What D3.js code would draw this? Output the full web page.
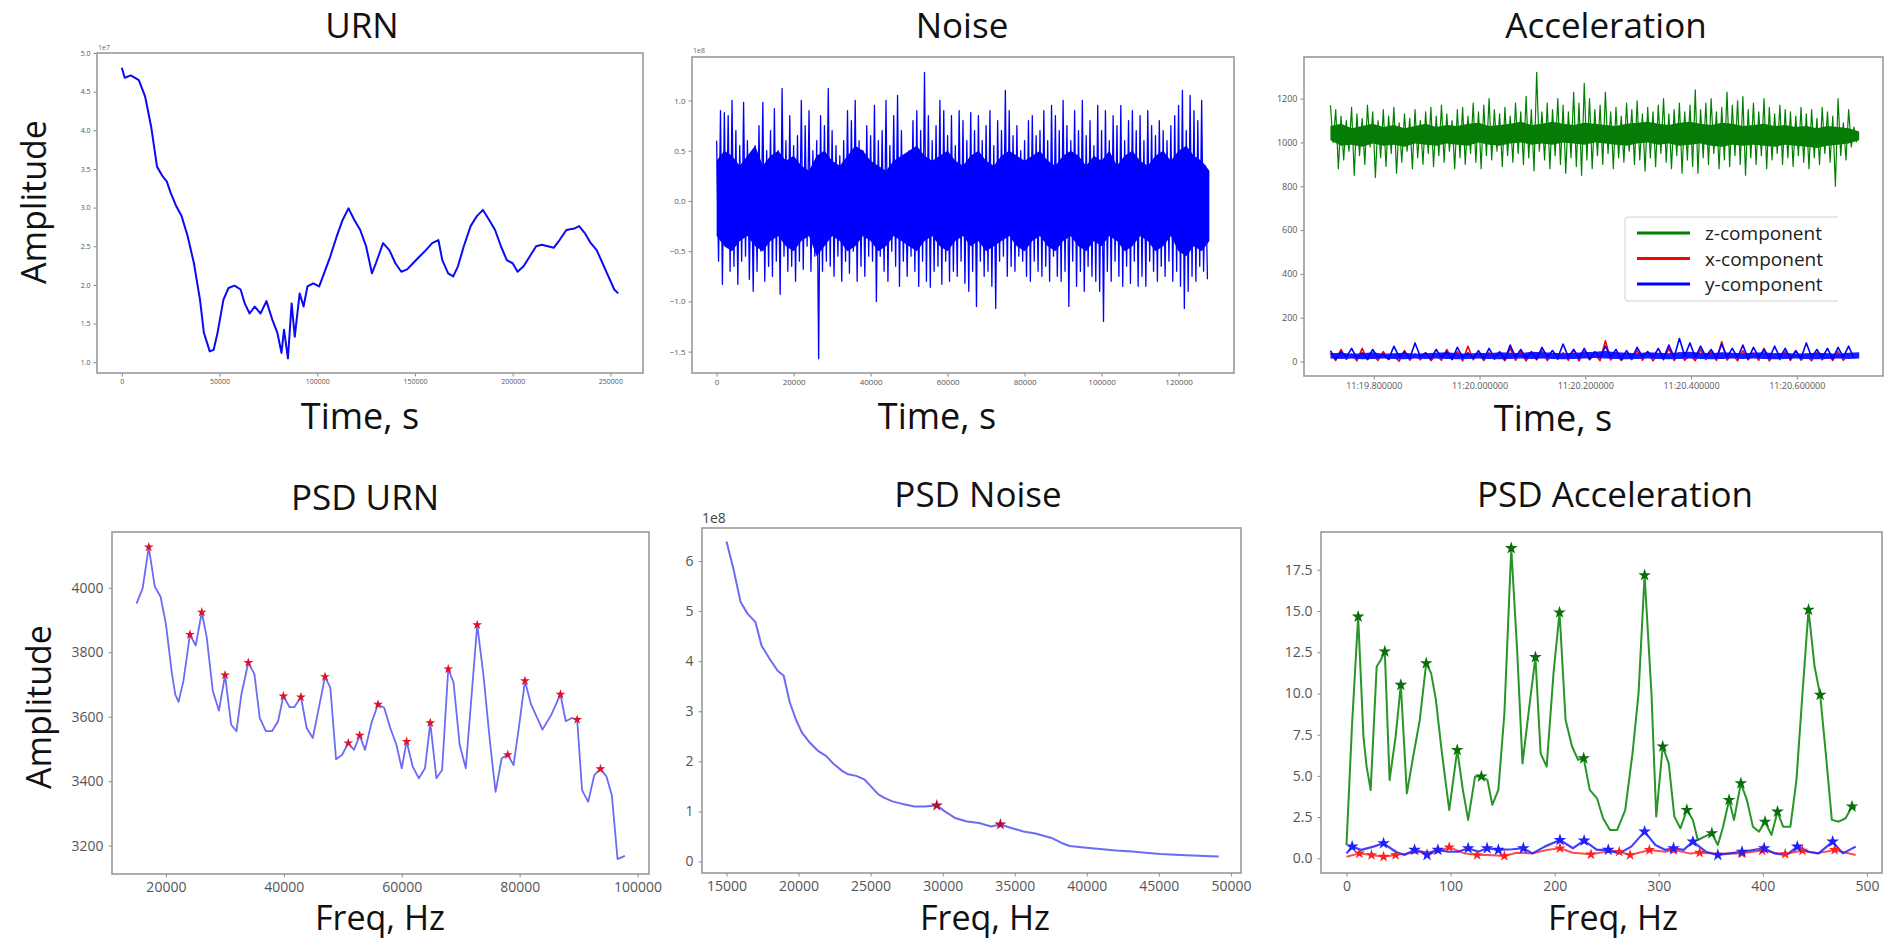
<!DOCTYPE html>
<html>
<head>
<meta charset="utf-8">
<title>URN / Noise / Acceleration</title>
<script src="https://cdn.jsdelivr.net/npm/d3@7"></script>
<style>
  body { margin: 0; background: #fff; }
  text { font-family: "Open Sans", "Noto Sans", sans-serif; }
</style>
</head>
<body>
<svg width="1895" height="940" id="mainsvg"></svg>
<script>
// ---- URN (time in s, amplitude in 1e7) ----
const urnT = [0, 1500, 4600, 8700, 11900, 15000, 18000, 21000, 23000, 25000, 28000, 30600, 33700, 36900, 40000, 42000,
  45000, 47000, 49000, 52000, 54600, 57700, 60800, 62900, 65400, 68000, 71000, 74000, 77000, 79600, 81700, 83000, 85000,
  86900, 88500, 91000, 93000, 95000, 98000, 101000, 103500, 106700, 110000, 113000, 116000, 119000, 122000, 125000,
  128000, 130000, 133700, 136900, 140000, 143000, 146000, 149000, 152500, 155600, 158800, 162000, 164000, 167000,
  169600, 172000, 175000, 178500, 181700, 184800, 188000, 191000, 194000, 197000, 200000, 202500, 205600, 208800,
  212000, 215000, 218000, 221000, 224000, 227500, 231700, 234000, 236900, 240000, 243000, 246000, 249000, 252000, 254000];
const urnA = [4.81, 4.68, 4.71, 4.65, 4.44, 4.05, 3.53, 3.40, 3.34, 3.19, 3.01, 2.89, 2.63, 2.28, 1.81, 1.38,
  1.14, 1.16, 1.38, 1.81, 1.96, 1.99, 1.94, 1.76, 1.63, 1.72, 1.63, 1.79, 1.55, 1.38, 1.12, 1.42, 1.05,
  1.76, 1.33, 1.89, 1.72, 1.98, 2.02, 1.98, 2.15, 2.37, 2.63, 2.84, 2.99, 2.84, 2.71, 2.50,
  2.15, 2.28, 2.54, 2.45, 2.28, 2.17, 2.20, 2.28, 2.37, 2.45, 2.54, 2.58, 2.32, 2.15,
  2.11, 2.24, 2.50, 2.76, 2.89, 2.97, 2.84, 2.71, 2.50, 2.32, 2.28, 2.17, 2.24, 2.37,
  2.50, 2.52, 2.50, 2.48, 2.58, 2.71, 2.73, 2.76, 2.67, 2.54, 2.45, 2.28, 2.11, 1.94, 1.89];

// ---- Noise (1e8): spikes, one peak and one trough per 1000 s ----
const noiseStep = 1000;
const noiseHigh = [0.6, 0.9, 0.88, 0.85, 1.0, 0.7, 0.55, 0.98, 0.6, 0.45,
  0.55, 0.75, 0.98, 0.5, 0.7, 0.92, 0.5, 1.12, 0.6, 0.85,
  0.55, 0.65, 1.0, 0.75, 0.9, 0.5, 0.6, 0.85, 0.75, 1.12,
  0.7, 0.55, 0.45, 0.6, 0.9, 0.8, 1.0, 0.6, 0.5, 0.75,
  0.65, 0.95, 0.6, 0.7, 1.0, 0.55, 0.85, 1.05, 0.7, 0.35,
  0.5, 0.8, 0.9, 0.7, 1.28, 0.85, 0.6, 0.75, 1.0, 0.9,
  0.65, 0.85, 0.55, 0.9, 0.8, 0.6, 0.88, 0.7, 0.85, 0.6,
  0.75, 0.9, 0.55, 0.8, 0.7, 1.1, 0.9, 0.65, 0.75, 0.5,
  0.6, 0.8, 0.85, 0.65, 0.7, 0.9, 0.6, 0.95, 0.85, 0.7,
  1.0, 0.75, 0.6, 0.9, 0.7, 1.0, 0.65, 0.8, 0.55, 0.95,
  0.7, 0.9, 0.6, 0.85, 0.75, 0.95, 0.6, 0.8, 0.9, 0.7,
  0.85, 0.6, 0.9, 0.75, 0.65, 0.8, 0.7, 0.6, 0.75, 0.85,
  0.95, 1.1, 0.7, 1.05, 0.9, 0.8, 1.0, 0.35];
const noiseLow = [-0.6, -0.83, -0.45, -0.7, -0.65, -0.83, -0.6, -0.55, -0.78, -0.9,
  -0.7, -0.5, -0.8, -0.65, -0.75, -0.6, -0.93, -0.55, -0.7, -0.65,
  -0.8, -0.6, -0.68, -0.45, -0.7, -0.55, -1.57, -0.7, -0.6, -0.65,
  -0.75, -0.55, -0.8, -0.6, -0.72, -0.5, -0.8, -0.65, -0.75, -0.55,
  -0.6, -1.0, -0.55, -0.7, -0.8, -0.5, -0.65, -0.85, -0.6, -0.75,
  -0.55, -0.7, -0.85, -0.6, -0.8, -0.86, -0.7, -0.65, -0.83, -0.6,
  -0.8, -0.7, -0.75, -0.6, -0.82, -0.9, -0.7, -1.05, -0.6, -0.75,
  -0.7, -0.85, -1.07, -0.6, -0.55, -0.75, -0.65, -0.7, -0.55, -0.6,
  -0.75, -0.8, -0.6, -0.7, -0.75, -0.65, -0.8, -0.55, -0.75, -0.8,
  -0.7, -1.05, -0.6, -0.85, -0.7, -0.9, -0.65, -0.75, -0.8, -0.9,
  -1.2, -0.7, -0.8, -0.6, -0.75, -0.85, -0.65, -0.82, -0.6, -0.85,
  -0.75, -0.85, -0.6, -0.7, -0.8, -0.65, -0.75, -0.6, -0.8, -0.7,
  -0.85, -1.07, -0.9, -0.75, -0.8, -0.65, -0.7, -0.78];
// dense solid core of the noise band, every 2000 s
const noiseCoreStep = 2000;
const noiseCoreHigh = [0.4, 0.5, 0.45, 0.35, 0.45, 0.55, 0.35, 0.45, 0.5, 0.4,
  0.45, 0.35, 0.3, 0.45, 0.5, 0.4, 0.35, 0.45, 0.55, 0.5,
  0.4, 0.35, 0.3, 0.4, 0.45, 0.5, 0.55, 0.45, 0.4, 0.45,
  0.5, 0.4, 0.35, 0.45, 0.5, 0.4, 0.35, 0.45, 0.5, 0.45,
  0.4, 0.45, 0.5, 0.4, 0.35, 0.45, 0.5, 0.45, 0.35, 0.45,
  0.4, 0.5, 0.35, 0.45, 0.5, 0.4, 0.35, 0.45, 0.5, 0.4,
  0.5, 0.55, 0.45, 0.4, 0.3];
const noiseCoreLow = [-0.35, -0.45, -0.5, -0.4, -0.35, -0.45, -0.5, -0.4, -0.35, -0.45,
  -0.5, -0.4, -0.35, -0.55, -0.45, -0.35, -0.4, -0.5, -0.45, -0.35,
  -0.4, -0.5, -0.45, -0.35, -0.4, -0.45, -0.5, -0.4, -0.35, -0.45,
  -0.5, -0.4, -0.35, -0.45, -0.4, -0.5, -0.45, -0.4, -0.35, -0.45,
  -0.5, -0.4, -0.35, -0.45, -0.5, -0.4, -0.35, -0.45, -0.5, -0.4,
  -0.45, -0.35, -0.4, -0.5, -0.45, -0.35, -0.4, -0.5, -0.45, -0.35,
  -0.5, -0.55, -0.45, -0.5, -0.4];

// ---- Acceleration, seconds after 11 min, spikes every 0.01 s ----
const accStart = 19.718, accStep = 0.01, accCoreStep = 0.02;
const accZHigh = [1170, 1150, 1120, 1100, 1160, 1130, 1110, 1170, 1140, 1100,
  1150, 1120, 1160, 1090, 1130, 1110, 1150, 1100, 1140, 1160,
  1120, 1170, 1130, 1100, 1150, 1160, 1120, 1180, 1140, 1170,
  1200, 1150, 1130, 1160, 1120, 1180, 1140, 1210, 1150, 1320,
  1140, 1180, 1150, 1200, 1170, 1140, 1230, 1180, 1270, 1200,
  1150, 1170, 1230, 1140, 1160, 1120, 1180, 1150, 1190, 1130,
  1160, 1140, 1170, 1200, 1130, 1150, 1180, 1140, 1170, 1240,
  1150, 1180, 1200, 1140, 1160, 1230, 1170, 1190, 1210, 1150,
  1180, 1140, 1200, 1160, 1130, 1170, 1150, 1140, 1120, 1160,
  1130, 1150, 1110, 1160, 1140, 1120, 1200, 1090, 1150, 1070];
const accZLow = [1000, 880, 920, 960, 850, 940, 900, 980, 840, 930,
  890, 950, 860, 910, 960, 880, 930, 900, 950, 890,
  940, 910, 960, 880, 930, 900, 950, 910, 880, 940,
  920, 960, 890, 940, 910, 950, 900, 930, 870, 960,
  920, 880, 940, 900, 860, 930, 890, 850, 920, 880,
  940, 900, 950, 880, 930, 910, 960, 900, 920, 870,
  930, 890, 950, 910, 880, 940, 860, 920, 890, 860,
  930, 900, 950, 880, 920, 890, 940, 900, 850, 930,
  900, 940, 880, 920, 950, 900, 930, 890, 940, 910,
  880, 930, 900, 950, 910, 800, 940, 920, 980, 1000];
const accZCoreHigh = [1075, 1085, 1065, 1075, 1085, 1070, 1080, 1065, 1075, 1085,
  1070, 1080, 1075, 1085, 1090, 1075, 1080, 1085, 1095, 1080,
  1085, 1095, 1085, 1080, 1090, 1085, 1080, 1075, 1085, 1090,
  1095, 1085, 1080, 1090, 1095, 1085, 1080, 1090, 1085, 1075,
  1080, 1085, 1075, 1080, 1070, 1075, 1065, 1075, 1070, 1065,
  1050];
const accZCoreLow = [1010, 985, 990, 980, 995, 985, 990, 980, 995, 990,
  985, 995, 990, 985, 1000, 990, 985, 995, 1000, 990,
  995, 990, 1000, 995, 990, 1000, 995, 990, 985, 995,
  1000, 990, 995, 985, 990, 995, 985, 980, 990, 985,
  990, 985, 980, 990, 985, 980, 975, 985, 990, 995,
  1010];
const accX = [40, 5, 55, 10, 35, 3, 60, 8, 30, 5, 45, 10, 25, 2, 50, 6, 35, 8, 40, 4,
  30, 6, 55, 9, 45, 3, 70, 8, 35, 5, 40, 10, 30, 4, 60, 6, 45, 3, 35, 8,
  50, 5, 30, 10, 40, 6, 55, 3, 45, 8, 35, 4, 95, 7, 40, 5, 30, 9, 50, 6,
  45, 3, 35, 8, 60, 5, 40, 6, 30, 4, 55, 9, 45, 5, 90, 7, 35, 4, 50, 8,
  40, 6, 60, 3, 35, 9, 45, 5, 50, 6, 30, 4, 40, 8, 35, 5, 45, 6, 30, 20];
const accY = [50, 10, 45, 20, 60, 15, 40, 12, 55, 18, 35, 10, 70, 20, 45, 15, 85, 22, 40, 12,
  55, 18, 45, 10, 65, 20, 40, 15, 50, 12, 60, 18, 45, 10, 75, 20, 55, 15, 45, 12,
  65, 22, 50, 18, 80, 20, 55, 15, 60, 12, 45, 18, 70, 20, 55, 10, 50, 15, 65, 22,
  45, 18, 60, 15, 75, 20, 105, 25, 85, 18, 70, 22, 55, 15, 80, 20, 60, 18, 75, 12,
  65, 20, 55, 15, 70, 18, 60, 12, 50, 15, 85, 20, 55, 18, 60, 12, 65, 20, 70, 15];
const accYCoreHigh = [38, 40, 35, 38, 42, 36, 38, 40, 35, 38,
  40, 42, 38, 36, 40, 38, 42, 40, 38, 45,
  42, 40, 38, 40, 42, 45, 48, 42, 40, 38,
  42, 40, 38, 42, 45, 40, 38, 42, 40, 38,
  40, 42, 38, 40, 36, 38, 40, 38, 36, 40,
  42];
const accYCoreLow = [14, 12, 14, 10, 12, 14, 12, 10, 14, 12,
  14, 12, 10, 12, 14, 12, 10, 12, 14, 12,
  14, 12, 10, 12, 14, 16, 14, 12, 10, 12,
  14, 12, 10, 12, 14, 12, 10, 12, 14, 12,
  14, 12, 10, 12, 14, 12, 10, 12, 14, 12,
  14];
const accLegend = ['z-component', 'x-component', 'y-component'];

// ---- PSD URN ----
const psdUrnF = [15017, 16055, 17093, 18131, 19100, 20000, 21038, 21592, 22145, 22976, 24083, 25052, 26090, 26920,
  27958, 28997, 30035, 31073, 31972, 32803, 33979, 35017, 35917, 36955, 37993, 39031, 39931, 40969, 41799, 42907,
  43875, 44913, 45952, 46990, 47889, 48858, 49896, 50934, 51903, 52872, 53772, 54948, 55986, 57024, 58062, 59100,
  60000, 60830, 61869, 62907, 63945, 64844, 65882, 66851, 67889, 68789, 69827, 70865, 72803, 73841, 75017, 75917,
  76955, 77993, 78962, 79862, 80900, 81938, 83875, 85398, 86920, 87820, 88858, 89758, 90588, 91626, 92664, 93702,
  94740, 95640, 96609, 97855];
const psdUrnA = [3951, 3998, 4126, 4003, 3972, 3888, 3732, 3669, 3646, 3711, 3855, 3821, 3924, 3847,
  3680, 3619, 3729, 3575, 3555, 3669, 3768, 3732, 3596, 3555, 3555, 3586, 3664, 3630, 3630, 3661,
  3565, 3534, 3628, 3724, 3690, 3468, 3482, 3518, 3497, 3542, 3497, 3586, 3638, 3628, 3565, 3513,
  3440, 3523, 3445, 3409, 3440, 3581, 3409, 3435, 3748, 3706, 3513, 3440, 3885, 3732, 3513, 3367,
  3471, 3482, 3450, 3565, 3711, 3638, 3560, 3607, 3669, 3586, 3596, 3591, 3372, 3336, 3419, 3438,
  3414, 3356, 3158, 3168];
const psdUrnPeakF = [17093, 24083, 26090, 30035, 33979, 39931, 42907, 46990, 50934, 52872, 55986, 60830,
  64844, 67889, 72803, 77993, 80900, 86920, 89758, 93702];
const psdUrnPeakA = [4126, 3855, 3924, 3729, 3768, 3664, 3661, 3724, 3518, 3542, 3638, 3523,
  3581, 3748, 3885, 3482, 3711, 3669, 3591, 3438];

// ---- PSD Noise (1e8) ----
const psdNoiseF = [15000, 15475, 15978, 16453, 17012, 17432, 17990, 18550, 18969, 19388, 19808, 20227, 20786,
  21345, 21904, 22463, 23022, 23441, 24000, 24559, 25118, 25537, 25956, 26515, 27214, 28052, 28751, 29590,
  30149, 30848, 31687, 32525, 33364, 34005, 34760, 35598, 36437, 37555, 38254, 38813, 39791, 40909, 42027,
  43145, 44263, 45101, 46499, 48176, 49154];
const psdNoiseA = [6.39, 5.85, 5.18, 4.95, 4.78, 4.31, 4.05, 3.81, 3.71, 3.18, 2.84, 2.58, 2.37,
  2.21, 2.11, 1.94, 1.81, 1.74, 1.71, 1.64, 1.47, 1.34, 1.27, 1.20, 1.15, 1.10, 1.10, 1.12,
  1.00, 0.87, 0.80, 0.77, 0.70, 0.74, 0.67, 0.60, 0.56, 0.47, 0.37, 0.31, 0.28, 0.25, 0.22,
  0.20, 0.17, 0.15, 0.13, 0.11, 0.10];
const psdNoisePeakF = [29590, 34005];
const psdNoisePeakA = [1.12, 0.74];

// ---- PSD Acceleration ----
const psdZF = [0, 5.4, 11.2, 16.3, 19.3, 23.2, 29.0, 32.9, 36.8, 41.4, 47.2, 52.2, 58.0, 63.5, 70.4, 76.6, 81.3,
  85.9, 91.7, 98.7, 106.4, 111.8, 116.9, 123.5, 129.6, 135.4, 140.1, 145.9, 151.7, 158.3, 164.1, 169.1, 174.9,
  181.5, 186.5, 192.3, 198.9, 204.7, 210.5, 216.7, 222.5, 227.9, 233.7, 240.7, 246.5, 253.1, 260.1, 267.8, 274.8,
  280.6, 286.4, 293.0, 297.6, 303.8, 309.6, 315.0, 320.8, 327.0, 332.8, 337.5, 344.0, 351.0, 356.8, 361.8, 367.6,
  372.3, 378.9, 384.7, 390.5, 396.3, 402.1, 408.3, 414.1, 419.5, 426.5, 432.3, 438.1, 443.9, 449.7, 455.1, 460.5,
  466.3, 472.9, 479.5, 485.7, 489.2];
const psdZA = [0.81, 8.19, 14.66, 7.38, 5.56, 4.15, 11.63, 12.03, 12.54, 4.75, 7.38, 10.52, 3.94, 5.97, 8.39, 11.83, 11.23,
  9.61, 6.37, 2.93, 6.57, 4.15, 2.33, 4.96, 4.96, 4.75, 3.24, 4.15, 8.80, 18.81, 12.44, 5.76, 8.80,
  12.20, 6.37, 5.56, 11.23, 14.91, 8.39, 6.78, 5.97, 6.07, 4.15, 3.64, 2.43, 1.72, 1.72, 2.93, 6.37,
  10.01, 17.17, 10.01, 2.53, 6.78, 5.76, 2.53, 1.82, 2.93, 2.33, 1.11, 1.31, 1.52, 0.81, 1.92, 3.54,
  2.33, 4.55, 3.54, 1.92, 1.62, 2.22, 1.42, 2.83, 1.92, 1.92, 4.75, 10.01, 15.07, 11.63, 9.91, 6.37,
  2.33, 2.22, 2.43, 3.14, 3.03];
const psdZPeakF = [11.2, 36.8, 52.2, 76.6, 106.4, 129.6, 158.3, 181.5, 204.7, 227.9, 286.4, 303.8, 327.0, 351.0,
  367.6, 378.9, 402.1, 414.1, 443.9, 455.1, 485.7];
const psdZPeakA = [14.66, 12.54, 10.52, 11.83, 6.57, 4.96, 18.81, 12.20, 14.91, 6.07, 17.17, 6.78, 2.93, 1.52,
  3.54, 4.55, 2.22, 2.83, 15.07, 9.91, 3.14];
const psdYF = [0, 5.4, 14.3, 25.9, 35.6, 47.2, 55.7, 65.4, 72.4, 77.4, 82.0, 87.8, 97.5, 107.2, 116.9, 126.5, 135.1,
  145.9, 159.4, 169.9, 178.8, 190.4, 205.1, 217.5, 228.3, 240.7, 251.5, 262.0, 273.6, 286.4, 296.8, 306.5, 314.2,
  323.9, 332.8, 345.2, 356.8, 368.4, 380.0, 391.6, 401.3, 411.0, 422.6, 433.1, 443.9, 453.6, 467.1, 476.8, 489.2];
const psdYA = [0.30, 0.71, 0.51, 0.71, 0.91, 0.40, 0.20, 0.51, 0.40, 0.20, 0.40, 0.51, 0.40, 0.40, 0.61, 0.40, 0.61,
  0.51, 0.55, 0.61, 0.30, 0.71, 1.11, 0.61, 1.07, 0.51, 0.51, 0.30, 0.71, 1.62, 0.81, 0.51, 0.61,
  0.51, 1.01, 0.40, 0.20, 0.30, 0.40, 0.51, 0.61, 0.30, 0.20, 0.71, 0.40, 0.30, 1.01, 0.30, 0.71];
const psdYPeak = [1, 4, 7, 9, 11, 14, 16, 17, 19, 22, 24, 26, 29, 32, 34, 36, 38, 40, 43, 46];
const psdXF = [0, 12.4, 24.0, 35.6, 47.2, 58.8, 74.3, 85.9, 98.7, 113.0, 125.5, 136.2, 151.7, 163.3, 178.8, 192.3,
  205.1, 217.5, 234.9, 248.5, 262.0, 272.5, 291.0, 306.5, 314.2, 329.7, 339.3, 352.9, 380.0, 399.4, 414.9, 421.5,
  438.1, 451.7, 469.0, 489.2];
const psdXA = [0.10, 0.30, 0.20, 0.10, 0.20, 0.30, 0.40, 0.34, 0.67, 0.30, 0.20, 0.20, 0.14, 0.34, 0.30, 0.51,
  0.61, 0.34, 0.24, 0.40, 0.40, 0.20, 0.51, 0.40, 0.51, 0.30, 0.34, 0.30, 0.30, 0.47, 0.30, 0.26,
  0.47, 0.30, 0.51, 0.20];
const psdXPeak = [1, 2, 3, 4, 8, 10, 12, 16, 18, 20, 21, 22, 24, 26, 28, 29, 31, 32, 34];

const svg = d3.select('#mainsvg');
let clipId = 0;

function panel(box, xDomain, yDomain) {
  const w = box.right - box.left, h = box.bottom - box.top;
  const g = svg.append('g').attr('transform', `translate(${box.left}, ${box.top})`);
  const x = d3.scaleLinear().domain(xDomain).range([0, w]);
  const y = d3.scaleLinear().domain(yDomain).range([h, 0]);
  const id = 'clip' + (clipId++);
  g.append('clipPath').attr('id', id).append('rect').attr('width', w).attr('height', h);
  const plot = g.append('g').attr('clip-path', `url(#${id})`);
  return {g, plot, x, y, w, h};
}

function axes(p, xTicks, yTicks, xFmt, yFmt, fs, pad) {
  const xa = p.g.append('g').attr('transform', `translate(0, ${p.h})`)
    .call(d3.axisBottom(p.x).tickValues(xTicks).tickFormat(xFmt).tickSize(3.5).tickSizeOuter(0).tickPadding(pad));
  const ya = p.g.append('g')
    .call(d3.axisLeft(p.y).tickValues(yTicks).tickFormat(yFmt).tickSize(3.5).tickSizeOuter(0).tickPadding(pad));
  [xa, ya].forEach(a => {
    a.attr('font-family', '"DejaVu Sans", sans-serif').attr('font-size', fs).attr('color', '#555');
    a.select('.domain').remove();
    a.selectAll('.tick line').attr('stroke', '#888');
  });
  p.g.append('rect').attr('width', p.w).attr('height', p.h)
    .attr('fill', 'none').attr('stroke', '#999').attr('stroke-width', 1.6);
}

function drawLine(p, xs, ys, color, width, opacity) {
  const line = d3.line().x(i => p.x(xs[i])).y(i => p.y(ys[i]));
  p.plot.append('path').attr('d', line(d3.range(xs.length)))
    .attr('fill', 'none').attr('stroke', color).attr('stroke-width', width)
    .attr('stroke-opacity', opacity).attr('stroke-linejoin', 'round');
}

// solid band between two envelopes, sampled every `step` from `start`
function drawBand(p, start, step, hi, lo, color) {
  const area = d3.area().x(i => p.x(start + i * step)).y0(i => p.y(lo[i])).y1(i => p.y(hi[i]));
  p.plot.append('path').attr('d', area(d3.range(hi.length))).attr('fill', color);
}

function drawStars(p, xs, ys, color, size) {
  p.plot.selectAll(null).data(d3.range(xs.length)).join('path')
    .attr('d', d3.symbol(d3.symbolStar, size))
    .attr('transform', i => `translate(${p.x(xs[i])}, ${p.y(ys[i])})`)
    .attr('fill', color);
}

function label(txt, x, y, size, rotate) {
  const t = svg.append('text').text(txt).attr('font-size', size)
    .attr('text-anchor', 'middle').attr('fill', '#111');
  if (rotate) t.attr('dominant-baseline', 'central').attr('transform', `translate(${x}, ${y}) rotate(-90)`);
  else t.attr('x', x).attr('y', y);
}

// interleave peaks and troughs into one zig-zag series
function zigzag(start, step, hi, lo) {
  const xs = [], ys = [];
  hi.forEach((v, i) => {
    xs.push(start + i * step, start + (i + 0.5) * step);
    ys.push(v, lo[i]);
  });
  return [xs, ys];
}

const f1 = d3.format('.1f');

// URN
const pUrn = panel({left: 97, right: 643, top: 53, bottom: 373}, [-12700, 266700], [0.86, 5.0]);
drawLine(pUrn, urnT, urnA, '#0a0af5', 2, 1);
axes(pUrn, d3.range(0, 250001, 50000), d3.range(1, 5.01, 0.5), d3.format('d'), f1, 7, 3);
pUrn.g.append('text').text('1e7').attr('x', 1).attr('y', -3).attr('font-size', 7)
  .attr('font-family', '"DejaVu Sans", sans-serif').attr('fill', '#666');

// Noise
const pNoise = panel({left: 692, right: 1234, top: 57, bottom: 373}, [-6400, 134400], [-1.713, 1.433]);
drawBand(pNoise, 0, noiseCoreStep, noiseCoreHigh, noiseCoreLow, '#0000ff');
const [nX, nY] = zigzag(0, noiseStep, noiseHigh, noiseLow);
drawLine(pNoise, nX, nY, '#0000ff', 1.3, 1);
axes(pNoise, d3.range(0, 120001, 20000), d3.range(-1.5, 1.01, 0.5), d3.format('d'), f1, 8, 3);
pNoise.g.append('text').text('1e8').attr('x', 1).attr('y', -4).attr('font-size', 7)
  .attr('font-family', '"DejaVu Sans", sans-serif').attr('fill', '#666');

// Acceleration
const pAcc = panel({left: 1304, right: 1883, top: 57, bottom: 376}, [19.668, 20.763], [-66, 1390]);
drawBand(pAcc, accStart, accCoreStep, accZCoreHigh, accZCoreLow, '#0a7a0a');
const [zX, zY] = zigzag(accStart, accStep, accZHigh, accZLow);
drawLine(pAcc, zX, zY, '#008000', 1.2, 1);
const tX = accX.map((v, i) => accStart + i * accStep * accZHigh.length / accX.length);
drawLine(pAcc, tX, accX, '#ff0000', 1.6, 1);
drawBand(pAcc, accStart, accCoreStep, accYCoreHigh, accYCoreLow, '#1a1aff');
drawLine(pAcc, tX, accY, '#0000ff', 1.6, 1);
axes(pAcc, [19.8, 20.0, 20.2, 20.4, 20.6], d3.range(0, 1201, 200),
  d => '11:' + d.toFixed(6), d3.format('d'), 9, 3);

// legend (clipped on the right as in the picture)
svg.append('clipPath').attr('id', 'legclip').append('rect')
  .attr('x', 1610).attr('y', 200).attr('width', 228).attr('height', 120);
const leg = svg.append('g').attr('clip-path', 'url(#legclip)');
leg.append('rect').attr('x', 1625).attr('y', 217).attr('width', 240).attr('height', 84)
  .attr('rx', 3).attr('fill', 'white').attr('fill-opacity', 0.85).attr('stroke', '#d0d0d0');
const legColors = ['#008000', '#ff0000', '#0000ff'];
accLegend.forEach((name, i) => {
  const yy = 233 + i * 25.5;
  leg.append('line').attr('x1', 1637).attr('x2', 1690).attr('y1', yy).attr('y2', yy)
    .attr('stroke', legColors[i]).attr('stroke-width', 3.2);
  leg.append('text').text(name).attr('x', 1705).attr('y', yy).attr('dominant-baseline', 'central')
    .attr('font-size', 19).attr('fill', '#222');
});

// PSD URN
const pPU = panel({left: 112, right: 649, top: 532, bottom: 874}, [10860, 101940], [3112, 4173]);
drawLine(pPU, psdUrnF, psdUrnA, '#3a3af0', 1.8, 0.75);
drawStars(pPU, psdUrnPeakF, psdUrnPeakA, '#e0102a', 30);
axes(pPU, d3.range(20000, 100001, 20000), d3.range(3200, 4001, 200), d3.format('d'), d3.format('d'), 14, 5);

// PSD Noise
const pPN = panel({left: 702, right: 1241, top: 528, bottom: 873}, [13300, 50700], [-0.23, 6.66]);
drawLine(pPN, psdNoiseF, psdNoiseA, '#3a3af0', 2, 0.75);
drawStars(pPN, psdNoisePeakF, psdNoisePeakA, '#b0103a', 45);
axes(pPN, d3.range(15000, 50001, 5000), d3.range(0, 6.01, 1), d3.format('d'), d3.format('d'), 14, 5);
pPN.g.append('text').text('1e8').attr('x', 0).attr('y', -5).attr('font-size', 14)
  .attr('font-family', '"DejaVu Sans", sans-serif').attr('fill', '#444');

// PSD Acceleration
const pPA = panel({left: 1321, right: 1882, top: 532, bottom: 873}, [-24.5, 514.5], [-0.89, 19.79]);
drawLine(pPA, psdXF, psdXA, '#ff2020', 2, 0.8);
drawLine(pPA, psdYF, psdYA, '#2020ff', 2.2, 0.85);
drawLine(pPA, psdZF, psdZA, '#108a10', 2, 0.9);
drawStars(pPA, psdXPeak.map(i => psdXF[i]), psdXPeak.map(i => psdXA[i]), '#ff2020', 40);
drawStars(pPA, psdYPeak.map(i => psdYF[i]), psdYPeak.map(i => psdYA[i]), '#2020ff', 50);
drawStars(pPA, psdZPeakF, psdZPeakA, '#0a6e0a', 50);
axes(pPA, d3.range(0, 501, 100), d3.range(0, 17.6, 2.5), d3.format('d'), f1, 14, 5);

// titles and axis labels (alphabetic baselines)
label('URN', 362, 38, 35);
label('Noise', 962, 38, 35);
label('Acceleration', 1606, 38, 35);
label('PSD URN', 365, 510, 35);
label('PSD Noise', 978, 507, 35);
label('PSD Acceleration', 1615, 507, 35);
label('Time, s', 360, 429, 36);
label('Time, s', 937, 429, 36);
label('Time, s', 1553, 431, 36);
label('Freq, Hz', 380, 930, 34);
label('Freq, Hz', 985, 930, 34);
label('Freq, Hz', 1613, 930, 34);
label('Amplitude', 33, 202, 34, true);
label('Amplitude', 38, 707, 34, true);
</script>
</body>
</html>
